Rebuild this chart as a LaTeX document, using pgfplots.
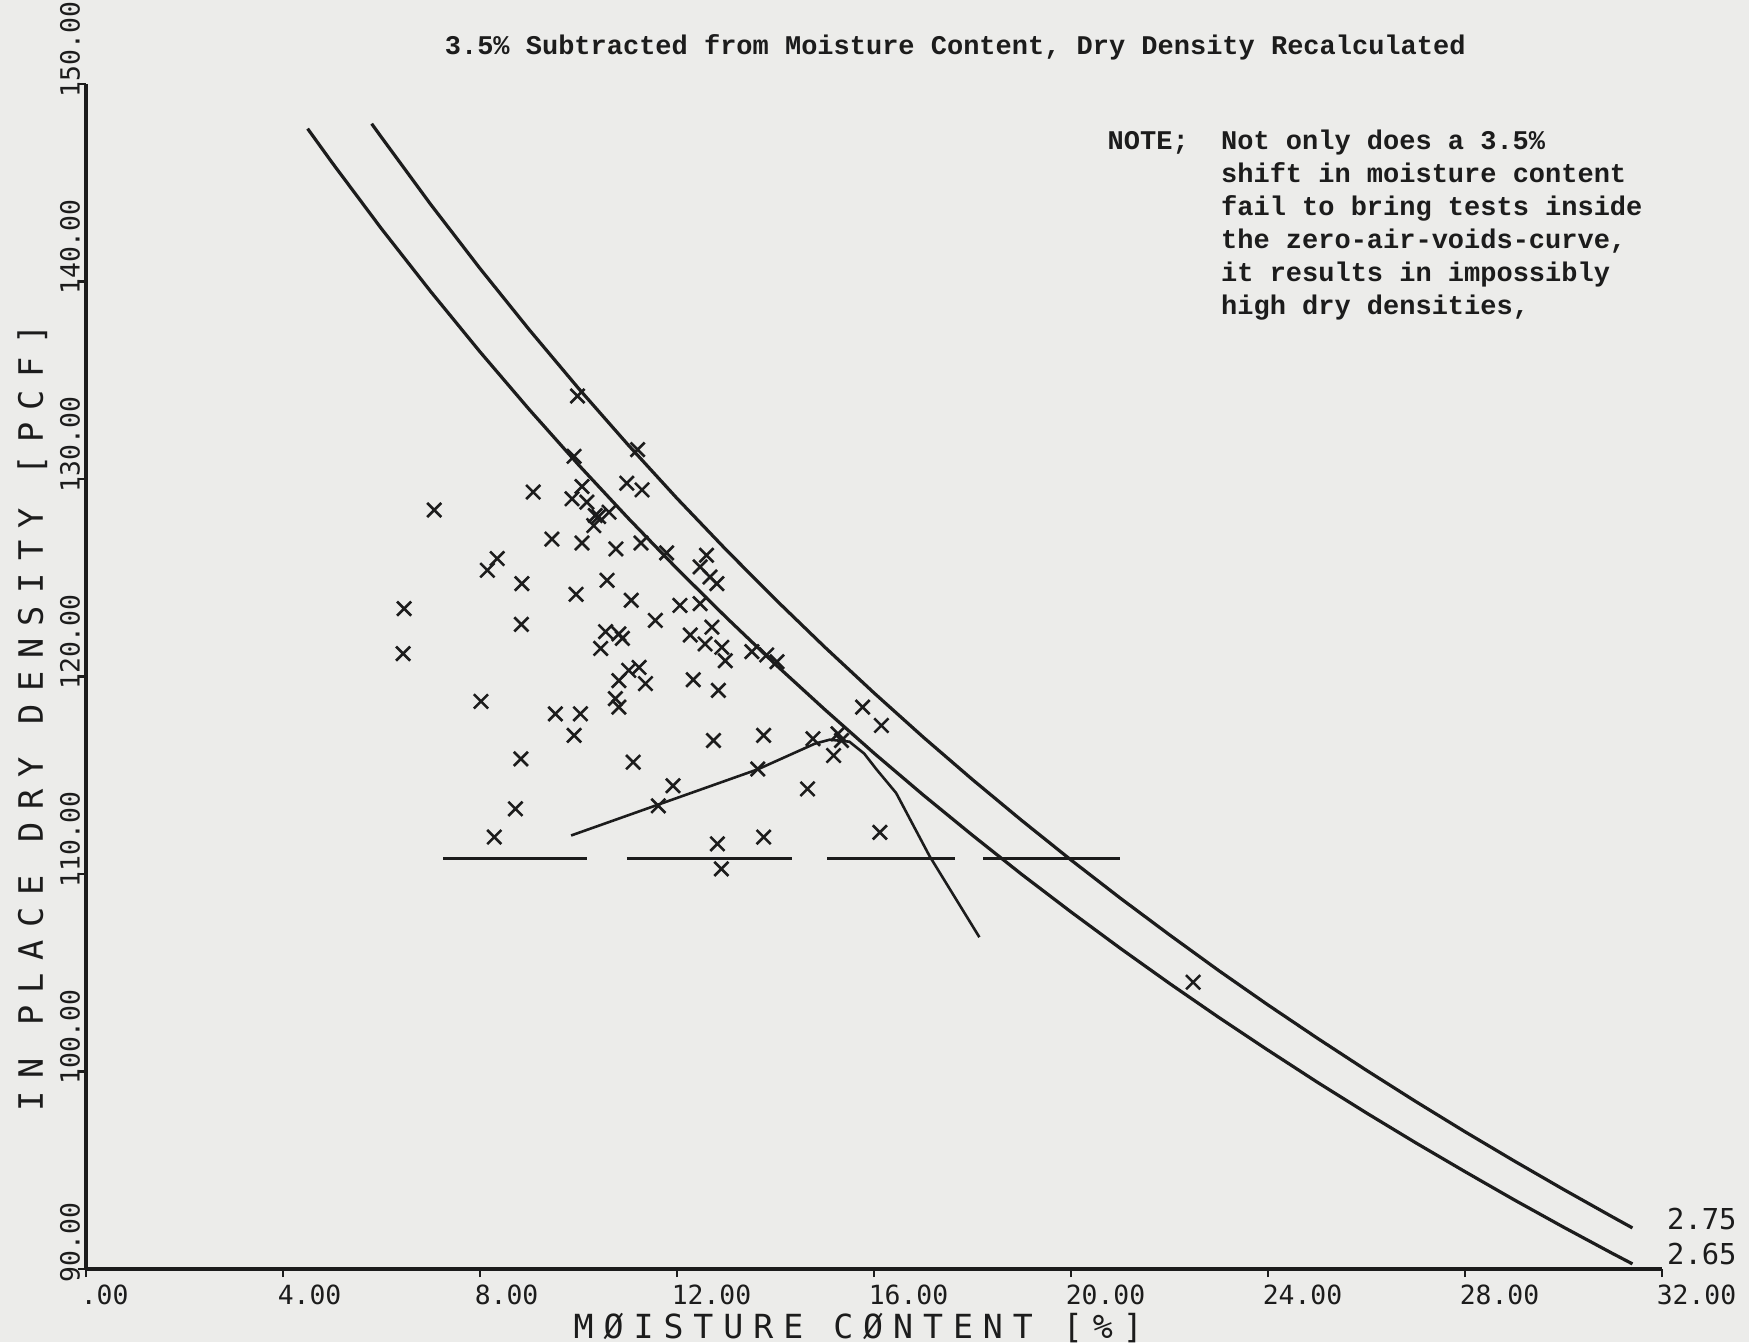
\documentclass[border=0pt]{standalone}
\usepackage{fontspec}
\usepackage{pgfplots}
\usepackage{pgfplotstable}
\pgfplotsset{compat=1.18}
\newfontfamily\plotfont{DejaVu Sans Mono}
\newfontfamily\plotlabelfont{DejaVu Sans Mono}[LetterSpace=30]
\newfontfamily\plotylabelfont{DejaVu Sans Mono}[LetterSpace=37]
\newfontfamily\typefont{Liberation Mono}
\definecolor{paper}{HTML}{ECECEA}
\definecolor{ink}{HTML}{1C1C1C}

\pgfplotstableread{
x y
9.98 134.20
11.20 131.49
9.91 131.15
9.08 129.34
7.07 128.43
10.07 129.62
9.87 129.00
10.98 129.79
11.29 129.45
10.34 128.15
10.17 128.83
10.41 128.10
10.62 128.32
10.31 127.64
9.46 126.96
10.07 126.76
10.76 126.46
11.27 126.76
11.79 126.26
12.60 126.14
12.47 125.55
12.67 125.04
12.81 124.70
8.35 125.97
8.15 125.38
8.85 124.70
9.95 124.16
10.58 124.87
11.07 123.86
12.06 123.60
12.47 123.69
11.56 122.84
6.46 123.44
6.44 121.16
8.84 122.64
10.55 122.27
10.82 122.16
10.45 121.42
10.89 121.93
12.27 122.10
12.71 122.50
12.57 121.65
12.91 121.48
12.98 120.80
13.52 121.26
13.82 121.09
14.03 120.75
11.02 120.31
11.23 120.46
11.36 119.64
10.82 119.79
12.33 119.84
12.84 119.30
8.02 118.74
10.75 118.88
10.82 118.45
9.53 118.11
10.04 118.11
9.91 117.02
8.83 115.83
11.11 115.66
12.74 116.76
13.76 117.02
14.76 116.85
15.27 117.10
15.18 116.00
15.34 116.76
15.77 118.45
16.15 117.52
11.92 114.47
11.62 113.45
13.64 115.32
14.65 114.31
8.72 113.30
8.29 111.87
12.82 111.53
13.76 111.87
12.90 110.26
16.12 112.11
22.48 104.52
}\tests

\begin{document}
\begin{tikzpicture}
\fill[paper] (-21.5pt,-18.25pt) rectangle (415.75pt,317.25pt);
\begin{axis}[
  at={(0,0)}, anchor=south west, scale only axis,
  width=394pt, height=296.25pt,
  xmin=0, xmax=32, ymin=90, ymax=150,
  axis x line=bottom, axis y line=left,
  axis line style={-, line width=0.85pt, ink},
  xtick={0,4,...,32}, ytick={90,100,...,150},
  xticklabels={.00,4.00,8.00,12.00,16.00,20.00,24.00,28.00,32.00},
  yticklabels={90.00,100.00,110.00,120.00,130.00,140.00,150.00},
  tick align=outside, major tick length=2pt,
  tick style={line width=0.65pt, ink},
  xticklabel style={font={\plotfont\fontsize{6.6}{7}\selectfont}, text=ink,
    xshift=-1.5pt, yshift=-1.9pt, anchor=north west, inner sep=0pt, text depth=0pt},
  yticklabel style={font={\plotfont\fontsize{6.6}{7}\selectfont}, text=ink,
    xshift=0.6pt, yshift=-3.5pt, rotate=90, anchor=south west, inner sep=0pt, text depth=0pt},
  xlabel={MØISTURE CØNTENT [\%]},
  ylabel={IN PLACE DRY DENSITY [PCF]},
  xlabel style={font={\plotlabelfont\fontsize{8.3}{9}\selectfont}, text=ink,
    at={(axis description cs:0.49,-0.05)}, anchor=center, inner sep=0pt},
  ylabel style={font={\plotylabelfont\fontsize{8.4}{9}\selectfont}, text=ink,
    at={(axis description cs:-0.034,0.465)}, anchor=center, inner sep=0pt},
  clip=false,
]
% zero-air-voids curve, Gs = 2.65
\addplot[ink, line width=0.8pt] coordinates {
(4.5,147.74)(5,146.01)(6,142.67)(7,139.49)(8,136.44)(9,133.52)(10,130.72)
(11,128.04)(12,125.46)(13,122.99)(14,120.61)(15,118.33)(16,116.12)(17,114.00)
(18,111.96)(19,109.98)(20,108.08)(21,106.24)(22,104.46)(23,102.74)(24,101.08)
(25,99.46)(26,97.90)(27,96.39)(28,94.93)(29,93.50)(30,92.12)(31,90.78)(31.4,90.26)};
% zero-air-voids curve, Gs = 2.75
\addplot[ink, line width=0.8pt] coordinates {
(5.8,147.99)(6,147.30)(7,143.90)(8,140.66)(9,137.56)(10,134.59)(11,131.75)
(12,129.02)(13,126.41)(14,123.90)(15,121.49)(16,119.17)(17,116.93)(18,114.78)
(19,112.71)(20,110.71)(21,108.78)(22,106.92)(23,105.11)(24,103.37)(25,101.69)
(26,100.06)(27,98.48)(28,96.95)(29,95.47)(30,94.03)(31,92.63)(31.4,92.08)};
% dashed horizontal line
\addplot[ink, line width=0.65pt] coordinates {(7.25,110.8)(10.17,110.8)};
\addplot[ink, line width=0.65pt] coordinates {(10.98,110.8)(14.33,110.8)};
\addplot[ink, line width=0.65pt] coordinates {(15.05,110.8)(17.64,110.8)};
\addplot[ink, line width=0.65pt] coordinates {(18.22,110.8)(21.0,110.8)};
% compaction curve
\addplot[ink, line width=0.65pt] coordinates {
(9.85,111.95)(13.64,115.3)(14.8,116.6)(15.1,116.8)(15.5,116.7)(15.8,116.1)
(16.05,115.3)(16.45,114.1)(17.13,110.9)(18.14,106.8)};
% tests
\addplot[only marks, mark=x, mark size=2.5pt, ink, line width=0.65pt] table[x=x,y=y] {\tests};

\node[font={\typefont\bfseries\fontsize{6.75}{8}\selectfont}, text=ink, inner sep=0pt, anchor=center]
  at (axis cs:17.65,151.87) {3.5\% Subtracted from Moisture Content, Dry Density Recalculated};
\node[font={\typefont\bfseries\fontsize{6.75}{8.25}\selectfont}, text=ink, inner sep=0pt,
  anchor=north west, align=left] at (axis cs:20.73,147.72)
  {NOTE;\ \ Not only does a 3.5\%\\
   \hphantom{NOTE;\ \ }shift in moisture content\\
   \hphantom{NOTE;\ \ }fail to bring tests inside\\
   \hphantom{NOTE;\ \ }the zero-air-voids-curve,\\
   \hphantom{NOTE;\ \ }it results in impossibly\\
   \hphantom{NOTE;\ \ }high dry densities,};
\node[font={\plotfont\fontsize{7.2}{8}\selectfont}, text=ink, inner sep=0pt] at (axis cs:32.81,92.53) {2.75};
\node[font={\plotfont\fontsize{7.2}{8}\selectfont}, text=ink, inner sep=0pt] at (axis cs:32.81,90.76) {2.65};
\end{axis}
\pgfresetboundingbox
\path[use as bounding box] (-21.5pt,-18.25pt) rectangle (415.75pt,317.25pt);
\end{tikzpicture}
\end{document}
